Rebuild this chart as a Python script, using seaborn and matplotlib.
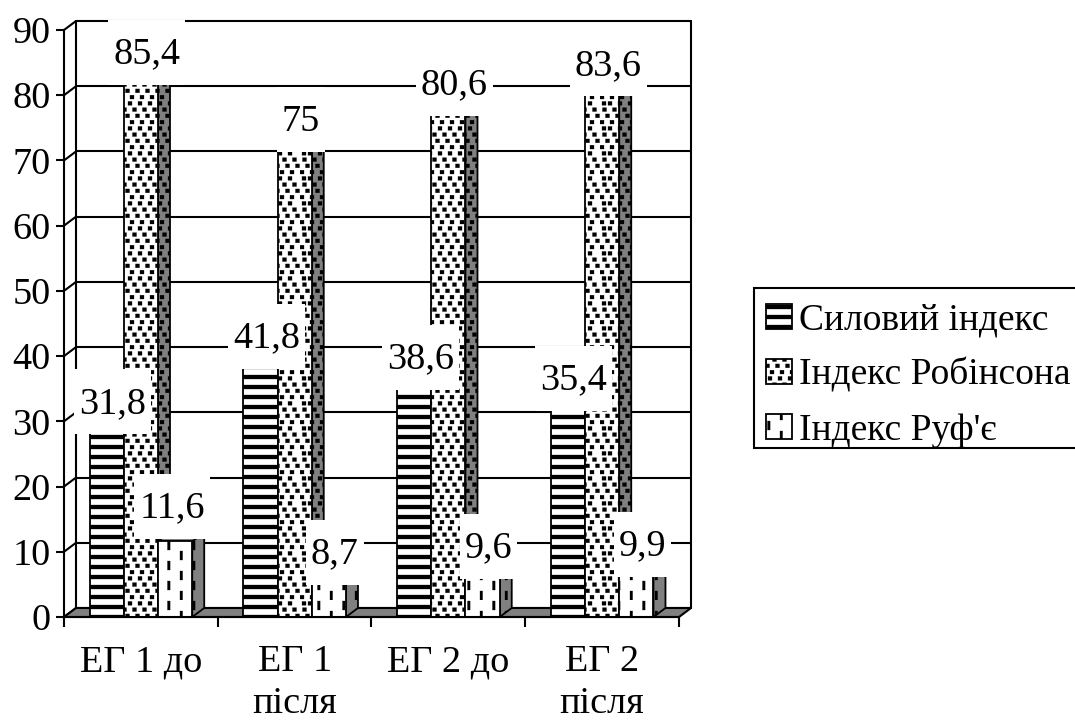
import numpy as np
import pandas as pd
import matplotlib
matplotlib.use("Agg")
import matplotlib.pyplot as plt
import matplotlib.hatch as mhatch
from matplotlib.path import Path
from matplotlib.patches import Polygon, Rectangle
import seaborn as sns

GROUPS = ["ЕГ 1 до", "ЕГ 1\nпісля", "ЕГ 2 до", "ЕГ 2\nпісля"]
SERIES = ["Силовий індекс", "Індекс Робінсона", "Індекс Руф'є"]
SILOVYI = [31.8, 41.8, 38.6, 35.4]
ROBINSON = [85.4, 75, 80.6, 83.6]
RUFIER = [11.6, 8.7, 9.6, 9.9]
Y_TICKS = list(range(0, 100, 10))


class RectTile(mhatch.HatchPatternBase):
    """Filled-rectangle hatch on the 100 px tile matplotlib uses at dpi 100."""
    char = ""

    def __init__(self, hatch, density):
        self.rects = self.make() if self.char in hatch else []
        self.num_vertices = 5 * len(self.rects)

    def set_vertices_and_codes(self, vertices, codes):
        for i, (x, y, w, h) in enumerate(self.rects):
            vertices[5 * i:5 * i + 5] = [(x, y), (x + w, y), (x + w, y + h), (x, y + h), (x, y)]
            codes[5 * i:5 * i + 5] = [Path.MOVETO, Path.LINETO, Path.LINETO, Path.LINETO, Path.CLOSEPOLY]


class Stripes(RectTile):
    char = "-"

    def make(self):
        return [(0, k / 10 + 0.01, 1, 0.04) for k in range(10)]


class Dots(RectTile):
    char = "o"

    def make(self):
        out = []
        shifts = [0.0, 0.055, 0.025, 0.08]
        for r in range(16):
            for c in range(10):
                x = (c / 10 + shifts[r % 4]) % 0.96
                out.append((x, r / 16 + 0.01, 0.04, 0.038))
        return out


class Dashes(RectTile):
    char = "|"

    def make(self):
        out = []
        for c in range(8):
            for r in range(5):
                y = r / 5 + (0.1 if c % 2 else 0.0)
                out.append((c / 8 + 0.05, y % 0.91, 0.026, 0.09))
        return out


mhatch._hatch_types = [Stripes, Dots, Dashes]

sns.set_style("white")
plt.rcParams["font.family"] = ["Liberation Serif", "DejaVu Sans"]
plt.rcParams["hatch.linewidth"] = 0.2
plt.rcParams["hatch.color"] = "black"
plt.rcParams["text.color"] = "black"
plt.rcParams["xtick.color"] = "black"
plt.rcParams["ytick.color"] = "black"

W, H = 1075, 720
fig = plt.figure(figsize=(W / 100, H / 100), dpi=100)
ax = fig.add_axes([64 / W, 1 - 617 / H, (679 - 64) / W, (617 - 30) / H])

df = pd.DataFrame({
    "group": GROUPS * 3,
    "series": np.repeat(SERIES, 4),
    "value": SILOVYI + ROBINSON + RUFIER,
})
sns.barplot(data=df, x="group", y="value", hue="series", order=GROUPS, hue_order=SERIES,
            palette=["white"] * 3, saturation=1, width=0.668, gap=0, dodge=True,
            legend=False, ax=ax)

ax.set_xlim(-0.5, 3.5)
ax.set_ylim(0, 90)
ax.set_xlabel("")
ax.set_ylabel("")

DX = 12 / 153.75   # depth of the pseudo-3D box in data units
DY = 9 / (587 / 90)
LW = 1.5
INK = "black"
GRAY = "#808080"
HATCHES = ["-", "o", "|"]

# back wall, side wall
for v in Y_TICKS:
    ax.plot([-0.5 + DX, 3.5 + DX], [v + DY, v + DY], color=INK, lw=LW, zorder=0.5, clip_on=False)
    ax.plot([-0.5, -0.5 + DX], [v, v + DY], color=INK, lw=LW, zorder=0.5, clip_on=False)
ax.plot([-0.5 + DX] * 2, [DY, 90 + DY], color=INK, lw=LW, zorder=0.5, clip_on=False)
ax.plot([3.5 + DX] * 2, [DY, 90 + DY], color=INK, lw=LW, zorder=0.5, clip_on=False)
ax.add_patch(Polygon([(-0.5, 0), (3.5, 0), (3.5 + DX, DY), (-0.5 + DX, DY)], closed=True,
                     facecolor=GRAY, edgecolor=INK, lw=LW, zorder=1, clip_on=False))

# bars with their side and top faces
for k, container in enumerate(ax.containers):
    for bar in container:
        bar.set(facecolor="white", edgecolor=INK, linewidth=1.3, hatch=HATCHES[k], zorder=2 + k * 0.1 + 0.05)
        x0, x1, h = bar.get_x(), bar.get_x() + bar.get_width(), bar.get_height()
        ax.add_patch(Polygon([(x1, 0), (x1 + DX, DY), (x1 + DX, h + DY), (x1, h)], closed=True,
                             facecolor=GRAY, edgecolor=INK, lw=1.3, hatch=HATCHES[k],
                             zorder=2 + k * 0.1, clip_on=False))
        ax.add_patch(Polygon([(x0, h), (x1, h), (x1 + DX, h + DY), (x0 + DX, h + DY)], closed=True,
                             facecolor=GRAY, edgecolor=INK, lw=1.3, zorder=2 + k * 0.1, clip_on=False))

# axes
for s in ("top", "right"):
    ax.spines[s].set_visible(False)
for s in ("left", "bottom"):
    ax.spines[s].set_linewidth(LW)
    ax.spines[s].set_color(INK)
    ax.spines[s].set_zorder(6)
FS = 27.5
ax.set_yticks(Y_TICKS)
ax.set_yticklabels([str(v) for v in Y_TICKS])
ax.tick_params(axis="y", length=5.5, width=LW, color=INK, labelsize=FS, pad=4, left=True, labelcolor=INK)
ax.set_xticks(np.arange(-0.5, 4, 1))
ax.set_xticklabels([])
ax.set_xticks(np.arange(4), labels=GROUPS, minor=True)
ax.tick_params(axis="x", which="major", length=7.5, width=LW, color=INK, bottom=True)
ax.tick_params(axis="x", which="minor", length=0, labelsize=FS, pad=20, labelcolor=INK)
for t in ax.get_xticklabels(minor=True):
    t.set_linespacing(1.26)


def label_box(x0, y0, w, h, mutation_size):
    yc = y0 + h / 2 + 2
    x_a, x_b = x0 - 5, x0 + w + 5
    y_a, y_b = yc - 32.5, yc + 32.5
    return Path([(x_a, y_a), (x_b, y_a), (x_b, y_b), (x_a, y_b), (x_a, y_a)],
                [Path.MOVETO, Path.LINETO, Path.LINETO, Path.LINETO, Path.CLOSEPOLY])


# the one label that sits away from its usual place: (series, group) -> px
MOVED = {(2, 0): (-9, 27)}
for k, container in enumerate(ax.containers):
    for g, bar in enumerate(container):
        sx, sy = MOVED.get((k, g), (0, 0))
        ox = 6 + sx
        oy = 6 + sy
        ax.annotate(f"{bar.get_height():g}".replace(".", ","),
                    (bar.get_x() + bar.get_width() / 2, bar.get_height()),
                    xytext=(ox * 0.72, oy * 0.72), textcoords="offset points",
                    ha="center", va="center", fontsize=FS, color=INK, zorder=10,
                    annotation_clip=False,
                    bbox=dict(boxstyle=label_box, facecolor="white", edgecolor="none"))

# legend box runs past the right edge of the picture, as in the source
fig.add_artist(Rectangle((754 / W, 1 - 448 / H), 340 / W, 160 / H, transform=fig.transFigure,
                         facecolor="white", edgecolor=INK, lw=LW, zorder=15))
leg = ax.legend([c[0] for c in ax.containers], SERIES,
                loc="upper left", bbox_to_anchor=(753 / W, 1 - 290 / H), bbox_transform=fig.transFigure,
                fontsize=27, frameon=False,
                handlelength=0.68, handleheight=0.66, handletextpad=0.2,
                labelspacing=0.54, borderpad=0.35, borderaxespad=0)
leg.set_zorder(20)
ax.set_zorder(16)
ax.patch.set_alpha(0)

fig.savefig("out.png", dpi=100, facecolor="white")
